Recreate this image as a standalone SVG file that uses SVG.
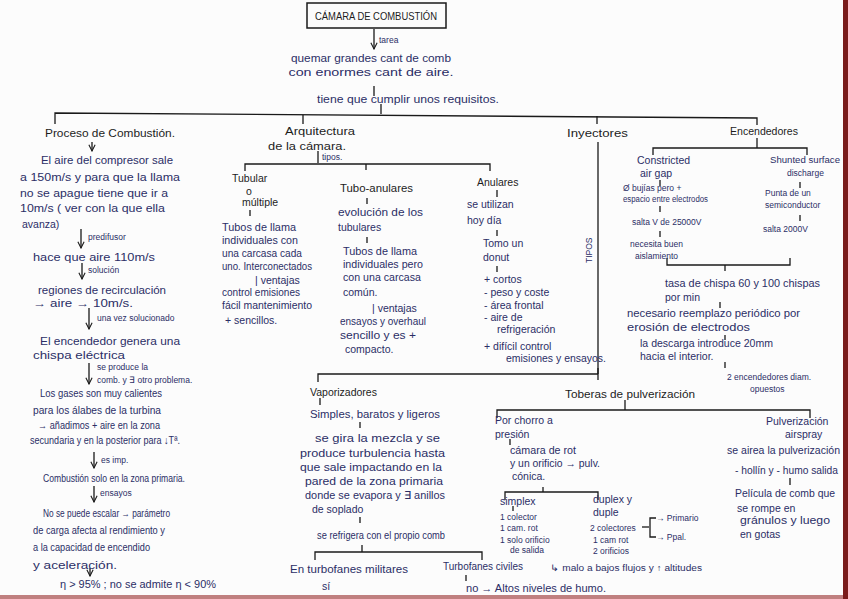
<svg xmlns="http://www.w3.org/2000/svg" width="848" height="599" viewBox="0 0 848 599">
<defs>
<marker id="ar" viewBox="0 0 10 10" refX="9" refY="5" markerWidth="6" markerHeight="6" orient="auto"><path d="M1,1 L9,5 L1,9" fill="none" stroke="#1a1a1a" stroke-width="1.4"/></marker>
<style>
text{font-family:"Liberation Sans",Arial,sans-serif;}
.t{font-size:10.5px;fill:#2b2e66;}
.s{font-size:8.5px;fill:#2b2e66;}
.h{font-size:10.5px;fill:#1c1c1c;}
.c line,.c path{stroke:#1a1a1a;stroke-width:1.3;fill:none;}
.c .a{marker-end:url(#ar);}
</style>
</defs>
<rect width="848" height="599" fill="#fcfcfc"/>
<rect x="843" y="0" width="5" height="599" fill="#7a1c1c"/>
<rect x="0" y="595" width="843" height="4" fill="#c08080"/>

<g class="c" id="connectors">
<line class="a" x1="374" y1="29" x2="374" y2="49"/>
<line x1="374" y1="86" x2="374" y2="96"/>
<line x1="381" y1="104" x2="381" y2="114"/>
<path d="M55,124 L55,113 L757,118 L757,125"/>
<line x1="303" y1="115" x2="303" y2="124"/>
<line x1="597" y1="116" x2="597" y2="124"/>
<line class="a" x1="92" y1="142" x2="92" y2="151"/>
<line class="a" x1="81" y1="229" x2="81" y2="248"/>
<line class="a" x1="82" y1="263" x2="82" y2="279"/>
<line class="a" x1="89" y1="308" x2="89" y2="329"/>
<line class="a" x1="89" y1="363" x2="89" y2="384"/>
<line class="a" x1="94" y1="452" x2="94" y2="468"/>
<line class="a" x1="94" y1="486" x2="94" y2="502"/>
<line class="a" x1="90" y1="568" x2="90" y2="576"/>
<line x1="318" y1="151" x2="318" y2="163"/>
<path d="M245,171 L245,164 L490,164 L490,171"/>
<line x1="366" y1="164" x2="366" y2="170"/>
<line x1="250" y1="210" x2="250" y2="216"/>
<line x1="367" y1="198" x2="367" y2="204"/>
<line x1="367" y1="237" x2="367" y2="243"/>
<line x1="497" y1="190" x2="497" y2="197"/>
<line x1="497" y1="230" x2="497" y2="236"/>
<line x1="497" y1="266" x2="497" y2="272"/>
<line x1="598" y1="142" x2="598" y2="374"/>
<path d="M318,382 L318,374 L598,374"/>
<line x1="598" y1="368" x2="598" y2="380"/>
<line x1="320" y1="398" x2="320" y2="405"/>
<line x1="360" y1="422" x2="360" y2="428"/>
<line x1="360" y1="517" x2="360" y2="523"/>
<path d="M315,560 L315,552 L482,552 L482,560"/>
<line x1="362" y1="545" x2="362" y2="552"/>
<line x1="466" y1="575" x2="466" y2="581"/>
<line x1="625" y1="400" x2="625" y2="410"/>
<path d="M497,418 L497,410 L810,410 L810,418"/>
<line x1="510" y1="439" x2="510" y2="445"/>
<path d="M505,500 L505,492 L598,492 L598,500"/>
<line x1="543" y1="487" x2="543" y2="492"/>
<line x1="513" y1="506" x2="513" y2="511"/>
<line x1="642" y1="527" x2="649" y2="527"/>
<path d="M656,518 L650,518 L650,537 L656,537"/>
<line x1="790" y1="478" x2="790" y2="485"/>
<line x1="757" y1="138" x2="757" y2="148"/>
<path d="M653,155 L653,148 L807,148 L807,155"/>
<line x1="660" y1="180" x2="660" y2="186"/>
<line x1="660" y1="206" x2="660" y2="212"/>
<line x1="660" y1="231" x2="660" y2="237"/>
<line x1="800" y1="182" x2="800" y2="188"/>
<line x1="800" y1="215" x2="800" y2="221"/>
<path d="M667,258 L667,265 L790,265 L790,258"/>
<line x1="725" y1="265" x2="725" y2="271"/>
<line x1="720" y1="302" x2="720" y2="308"/>
<line x1="725" y1="335" x2="725" y2="340"/>
<line x1="725" y1="362" x2="725" y2="368"/>
</g>

<g id="title"><rect x="307" y="3" width="139" height="25" fill="none" stroke="#1a1a1a" stroke-width="1.5"/><text class="h" x="376" y="20" text-anchor="middle" font-size="9.5" textLength="122" lengthAdjust="spacingAndGlyphs">CÁMARA DE COMBUSTIÓN</text></g>
<g id="tarea"><text class="s" x="379" y="43">tarea</text>
<text class="t" x="371" y="62" text-anchor="middle" textLength="160" lengthAdjust="spacingAndGlyphs">quemar grandes cant de comb</text>
<text class="t" x="371" y="76" text-anchor="middle" textLength="165" lengthAdjust="spacingAndGlyphs">con enormes cant de aire.</text>
<text class="t" x="408" y="103" text-anchor="middle" textLength="182" lengthAdjust="spacingAndGlyphs">tiene que cumplir unos requisitos.</text></g>

<g id="proceso">
<text class="h" x="45" y="137" textLength="130" lengthAdjust="spacingAndGlyphs">Proceso de Combustión.</text>
<text class="t" x="41" y="164" textLength="132" lengthAdjust="spacingAndGlyphs">El aire del compresor sale</text>
<text class="t" x="20" y="181" textLength="160" lengthAdjust="spacingAndGlyphs">a 150m/s y para que la llama</text>
<text class="t" x="20" y="197" textLength="148" lengthAdjust="spacingAndGlyphs">no se apague tiene que ir a</text>
<text class="t" x="20" y="212" textLength="145" lengthAdjust="spacingAndGlyphs">10m/s ( ver con la que ella</text>
<text class="t" x="22" y="228">avanza)</text>
<text class="s" x="88" y="240">predifusor</text>
<text class="t" x="33" y="261" textLength="122" lengthAdjust="spacingAndGlyphs">hace que aire 110m/s</text>
<text class="s" x="88" y="273">solución</text>
<text class="t" x="38" y="294" textLength="128" lengthAdjust="spacingAndGlyphs">regiones de recirculación</text>
<text class="t" x="33" y="307" textLength="100" lengthAdjust="spacingAndGlyphs">→ aire → 10m/s.</text>
<text class="s" x="97" y="321">una vez solucionado</text>
<text class="t" x="40" y="345" textLength="140" lengthAdjust="spacingAndGlyphs">El encendedor genera una</text>
<text class="t" x="33" y="359" textLength="92" lengthAdjust="spacingAndGlyphs">chispa eléctrica</text>
<text class="s" x="97" y="370">se produce la</text>
<text class="s" x="97" y="383">comb. y ∃ otro problema.</text>
<text class="t" x="40" y="397" textLength="122" lengthAdjust="spacingAndGlyphs">Los gases son muy calientes</text>
<text class="t" x="33" y="414" textLength="128" lengthAdjust="spacingAndGlyphs">para los álabes de la turbina</text>
<text class="t" x="38" y="429" textLength="122" lengthAdjust="spacingAndGlyphs">→ añadimos + aire en la zona</text>
<text class="t" x="30" y="444" textLength="150" lengthAdjust="spacingAndGlyphs">secundaria y en la posterior para ↓Tª.</text>
<text class="s" x="101" y="463">es imp.</text>
<text class="t" x="43" y="482" textLength="142" lengthAdjust="spacingAndGlyphs">Combustión solo en la zona primaria.</text>
<text class="s" x="100" y="496">ensayos</text>
<text class="t" x="43" y="517" textLength="127" lengthAdjust="spacingAndGlyphs">No se puede escalar → parámetro</text>
<text class="t" x="33" y="534" textLength="132" lengthAdjust="spacingAndGlyphs">de carga afecta al rendimiento y</text>
<text class="t" x="33" y="551" textLength="117" lengthAdjust="spacingAndGlyphs">a la capacidad de encendido</text>
<text class="t" x="33" y="569" textLength="84" lengthAdjust="spacingAndGlyphs">y aceleración.</text>
<text class="t" x="60" y="588" textLength="156" lengthAdjust="spacingAndGlyphs">η &gt; 95% ; no se admite η &lt; 90%</text>
</g>

<g id="arquitectura">
<text class="h" x="285" y="135" textLength="70" lengthAdjust="spacingAndGlyphs">Arquitectura</text>
<text class="h" x="268" y="150" textLength="78" lengthAdjust="spacingAndGlyphs">de la cámara.</text>
<text class="s" x="322" y="160">tipos.</text>
</g>
<g id="tubular">
<text class="h" x="232" y="182" font-size="9.5">Tubular</text>
<text class="h" x="246" y="195" font-size="7">o</text>
<text class="h" x="242" y="206" font-size="9.5">múltiple</text>
<text class="t" x="222" y="231" textLength="74" lengthAdjust="spacingAndGlyphs">Tubos de llama</text>
<text class="t" x="222" y="244" textLength="76" lengthAdjust="spacingAndGlyphs">individuales con</text>
<text class="t" x="222" y="257" textLength="80" lengthAdjust="spacingAndGlyphs">una carcasa cada</text>
<text class="t" x="222" y="270" textLength="90" lengthAdjust="spacingAndGlyphs">uno. Interconectados</text>
<text class="t" x="255" y="284">| ventajas</text>
<text class="t" x="222" y="296" textLength="78" lengthAdjust="spacingAndGlyphs">control emisiones</text>
<text class="t" x="222" y="309" textLength="90" lengthAdjust="spacingAndGlyphs">fácil mantenimiento</text>
<text class="t" x="225" y="324">+ sencillos.</text>
</g>
<g id="tuboanulares">
<text class="h" x="340" y="192" font-size="9.5" textLength="73" lengthAdjust="spacingAndGlyphs">Tubo-anulares</text>
<text class="t" x="338" y="216" textLength="85" lengthAdjust="spacingAndGlyphs">evolución de los</text>
<text class="t" x="338" y="231">tubulares</text>
<text class="t" x="343" y="255" textLength="74" lengthAdjust="spacingAndGlyphs">Tubos de llama</text>
<text class="t" x="343" y="268" textLength="80" lengthAdjust="spacingAndGlyphs">individuales pero</text>
<text class="t" x="343" y="281" textLength="78" lengthAdjust="spacingAndGlyphs">con una carcasa</text>
<text class="t" x="343" y="296">común.</text>
<text class="t" x="372" y="312">| ventajas</text>
<text class="t" x="340" y="325" textLength="86" lengthAdjust="spacingAndGlyphs">ensayos y overhaul</text>
<text class="t" x="340" y="339" textLength="76" lengthAdjust="spacingAndGlyphs">sencillo y es +</text>
<text class="t" x="345" y="353">compacto.</text>
</g>
<g id="anulares">
<text class="h" x="477" y="186" font-size="9.5">Anulares</text>
<text class="t" x="467" y="208">se utilizan</text>
<text class="t" x="467" y="224">hoy día</text>
<text class="t" x="483" y="247">Tomo un</text>
<text class="t" x="483" y="261">donut</text>
<text class="t" x="484" y="283">+ cortos</text>
<text class="t" x="484" y="296">- peso y coste</text>
<text class="t" x="484" y="309">- área frontal</text>
<text class="t" x="484" y="321">- aire de</text>
<text class="t" x="497" y="333">refrigeración</text>
<text class="t" x="484" y="350">+ difícil control</text>
<text class="t" x="506" y="362" textLength="100" lengthAdjust="spacingAndGlyphs">emisiones y ensayos.</text>
</g>

<g id="inyectores">
<text class="h" x="567" y="137" textLength="61" lengthAdjust="spacingAndGlyphs">Inyectores</text>
<text class="s" transform="translate(592,263) rotate(-90)">TIPOS</text>
</g>
<g id="vaporizadores">
<text class="h" x="310" y="396" font-size="9.5">Vaporizadores</text>
<text class="t" x="310" y="418" textLength="130" lengthAdjust="spacingAndGlyphs">Simples, baratos y ligeros</text>
<text class="t" x="315" y="442" textLength="125" lengthAdjust="spacingAndGlyphs">se gira la mezcla y se</text>
<text class="t" x="300" y="457" textLength="145" lengthAdjust="spacingAndGlyphs">produce turbulencia hasta</text>
<text class="t" x="300" y="471" textLength="142" lengthAdjust="spacingAndGlyphs">que sale impactando en la</text>
<text class="t" x="305" y="485" textLength="138" lengthAdjust="spacingAndGlyphs">pared de la zona primaria</text>
<text class="t" x="305" y="499" textLength="140" lengthAdjust="spacingAndGlyphs">donde se evapora y ∃ anillos</text>
<text class="t" x="312" y="513">de soplado</text>
<text class="t" x="317" y="539" textLength="128" lengthAdjust="spacingAndGlyphs">se refrigera con el propio comb</text>
<text class="t" x="290" y="573" textLength="118" lengthAdjust="spacingAndGlyphs">En turbofanes militares</text>
<text class="t" x="322" y="590">sí</text>
<text class="t" x="443" y="570" textLength="80" lengthAdjust="spacingAndGlyphs">Turbofanes civiles</text>
<text class="t" x="466" y="592" textLength="140" lengthAdjust="spacingAndGlyphs">no → Altos niveles de humo.</text>
</g>
<g id="toberas">
<text class="h" x="565" y="398" textLength="130" lengthAdjust="spacingAndGlyphs">Toberas de pulverización</text>
<text class="t" x="495" y="424">Por chorro a</text>
<text class="t" x="495" y="438">presión</text>
<text class="t" x="510" y="454" textLength="66" lengthAdjust="spacingAndGlyphs">cámara de rot</text>
<text class="t" x="510" y="467" textLength="90" lengthAdjust="spacingAndGlyphs">y un orificio → pulv.</text>
<text class="t" x="512" y="480">cónica.</text>
<text class="t" x="500" y="505">simplex</text>
<text class="s" x="500" y="520">1 colector</text>
<text class="s" x="500" y="531">1 cam. rot</text>
<text class="s" x="500" y="543">1 solo orificio</text>
<text class="s" x="510" y="553">de salida</text>
<text class="t" x="593" y="503">duplex y</text>
<text class="t" x="593" y="516">duple</text>
<text class="s" x="590" y="531">2 colectores</text>
<text class="s" x="593" y="543">1 cam rot</text>
<text class="s" x="593" y="554">2 orificios</text>
<text class="s" x="656" y="521">→ Primario</text>
<text class="s" x="656" y="540">→ Ppal.</text>
<text class="s" x="550" y="571" textLength="152" lengthAdjust="spacingAndGlyphs">↳ malo a bajos flujos y ↑ altitudes</text>
</g>
<g id="airspray">
<text class="t" x="766" y="425">Pulverización</text>
<text class="t" x="785" y="438">airspray</text>
<text class="t" x="727" y="454" textLength="113" lengthAdjust="spacingAndGlyphs">se airea la pulverización</text>
<text class="t" x="735" y="474" textLength="103" lengthAdjust="spacingAndGlyphs">- hollín y - humo salida</text>
<text class="t" x="735" y="497" textLength="100" lengthAdjust="spacingAndGlyphs">Película de comb que</text>
<text class="t" x="737" y="512">se rompe en</text>
<text class="t" x="740" y="524" textLength="90" lengthAdjust="spacingAndGlyphs">gránulos y luego</text>
<text class="t" x="740" y="538">en gotas</text>
</g>

<g id="encendedores">
<text class="h" x="730" y="135" textLength="68" lengthAdjust="spacingAndGlyphs">Encendedores</text>
<text class="t" x="637" y="164">Constricted</text>
<text class="t" x="640" y="177">air gap</text>
<text class="s" x="623" y="191">Ø bujías pero +</text>
<text class="s" x="623" y="202" textLength="85" lengthAdjust="spacingAndGlyphs">espacio entre electrodos</text>
<text class="s" x="632" y="225">salta V de 25000V</text>
<text class="s" x="630" y="247">necesita buen</text>
<text class="s" x="635" y="259">aislamiento</text>
<text class="s" x="770" y="163" textLength="70" lengthAdjust="spacingAndGlyphs">Shunted surface</text>
<text class="s" x="787" y="176">discharge</text>
<text class="s" x="765" y="196">Punta de un</text>
<text class="s" x="765" y="208">semiconductor</text>
<text class="s" x="763" y="232">salta 2000V</text>
<text class="t" x="665" y="287" textLength="155" lengthAdjust="spacingAndGlyphs">tasa de chispa 60 y 100 chispas</text>
<text class="t" x="665" y="301">por min</text>
<text class="t" x="627" y="317" textLength="173" lengthAdjust="spacingAndGlyphs">necesario reemplazo periódico por</text>
<text class="t" x="627" y="331" textLength="123" lengthAdjust="spacingAndGlyphs">erosión de electrodos</text>
<text class="t" x="640" y="347" textLength="133" lengthAdjust="spacingAndGlyphs">la descarga introduce 20mm</text>
<text class="t" x="640" y="360">hacia el interior.</text>
<text class="s" x="727" y="380">2 encendedores diam.</text>
<text class="s" x="750" y="392">opuestos</text>
</g>
</svg>
